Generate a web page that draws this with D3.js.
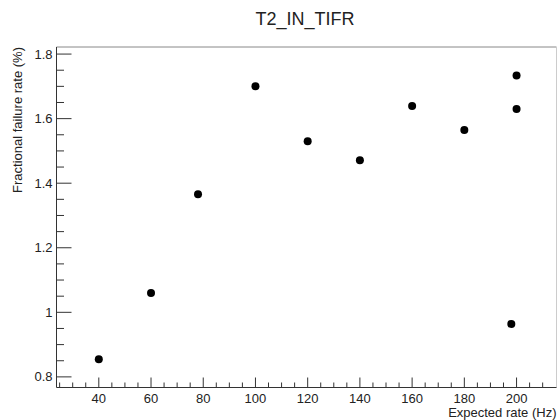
<!DOCTYPE html>
<html>
<head>
<meta charset="utf-8">
<script src="https://cdn.jsdelivr.net/npm/d3@7"></script>
<style>
  body { margin: 0; background: #fff; }
  text { font-family: "Liberation Sans", Arial, sans-serif; fill: #222; }
</style>
</head>
<body>
<svg width="558" height="420"></svg>
<script>
var rates = [40, 60, 78, 100, 120, 140, 160, 180, 198, 200, 200];
var failures = [0.855, 1.06, 1.366, 1.70, 1.53, 1.471, 1.639, 1.565, 0.964, 1.734, 1.63];
var xTicks = [40, 60, 80, 100, 120, 140, 160, 180, 200];
var yTicks = [0.8, 1, 1.2, 1.4, 1.6, 1.8];

var svg = d3.select('svg');
var fLeft = 56.5, fRight = 556.5, fTop = 47, fBottom = 387.5;

var yMin = d3.min(failures), yMax = d3.max(failures);
var yPad = (yMax - yMin) * 0.1;
var x = d3.scaleLinear().domain([23.8, 215.3]).range([fLeft, fRight]);
var y = d3.scaleLinear().domain([yMin - yPad, yMax + yPad]).range([fBottom, fTop]);

// frame
svg.append('line').attr('x1', fLeft).attr('x2', fRight).attr('y1', fTop).attr('y2', fTop)
   .attr('stroke', '#888').attr('stroke-width', 1);
svg.append('line').attr('x1', fRight).attr('x2', fRight).attr('y1', fTop).attr('y2', fBottom)
   .attr('stroke', '#ccc').attr('stroke-width', 1);

// x axis, ticks point up
var xMinor = d3.range(25, 215, 5);
var gx = svg.append('g');
gx.selectAll('line.minor').data(xMinor).enter().append('line')
  .attr('x1', d => x(d)).attr('x2', d => x(d))
  .attr('y1', fBottom).attr('y2', d => xTicks.indexOf(d) >= 0 ? fBottom - 10 : fBottom - 5)
  .attr('stroke', '#333');
gx.append('line').attr('x1', fLeft).attr('x2', fRight).attr('y1', fBottom).attr('y2', fBottom)
  .attr('stroke', '#333');
gx.selectAll('text').data(xTicks).enter().append('text')
  .attr('x', d => x(d)).attr('y', fBottom + 15)
  .attr('text-anchor', 'middle').attr('font-size', '13px')
  .text(d => d);

// y axis, ticks point right
var yMinor = d3.range(0.8, 1.8001, 0.05);
var gy = svg.append('g');
gy.selectAll('line').data(yMinor).enter().append('line')
  .attr('x1', fLeft).attr('x2', (d, i) => i % 4 == 0 ? fLeft + 15 : fLeft + 7.5)
  .attr('y1', d => y(d)).attr('y2', d => y(d))
  .attr('stroke', '#333');
gy.append('line').attr('x1', fLeft).attr('x2', fLeft).attr('y1', fTop).attr('y2', fBottom)
  .attr('stroke', '#333');
gy.selectAll('text').data(yTicks).enter().append('text')
  .attr('x', fLeft - 4).attr('y', d => y(d) + 4.5)
  .attr('text-anchor', 'end').attr('font-size', '13px')
  .text(d => d);

// points
svg.selectAll('circle').data(rates).enter().append('circle')
   .attr('cx', d => x(d)).attr('cy', (d, i) => y(failures[i]))
   .attr('r', 4).attr('fill', '#000');

// titles
svg.append('text').attr('x', 305).attr('y', 25).attr('text-anchor', 'middle')
   .attr('font-size', '18px').text('T2_IN_TIFR');
svg.append('text').attr('x', fRight).attr('y', 416.5).attr('text-anchor', 'end')
   .attr('font-size', '13px').text('Expected rate (Hz)');
svg.append('text').attr('transform', 'translate(22,' + fTop + ') rotate(-90)')
   .attr('text-anchor', 'end').attr('font-size', '13px')
   .text('Fractional failure rate (%)');
</script>
</body>
</html>
